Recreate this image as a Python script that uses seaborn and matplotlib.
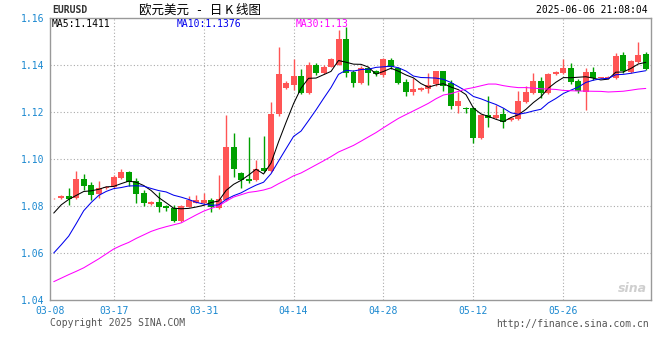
import numpy as np
import pandas as pd
import seaborn as sns
import matplotlib.pyplot as plt

# EUR/USD daily candles (80 bars)
opens = [1.0832, 1.0834, 1.0843, 1.0833, 1.0915, 1.0891, 1.0851, 1.0875, 1.0882, 1.0920,
         1.0946, 1.0906, 1.0857, 1.0807, 1.0818, 1.0800, 1.0790, 1.0736, 1.0797, 1.0814,
         1.0814, 1.0826, 1.0790, 1.0826, 1.1052, 1.0942, 1.0914, 1.0911, 1.0960, 1.0950,
         1.1190, 1.1303, 1.1315, 1.1353, 1.1280, 1.1400, 1.1365, 1.1393, 1.1400, 1.1511,
         1.1369, 1.1322, 1.1389, 1.1376, 1.1357, 1.1421, 1.1386, 1.1329, 1.1284, 1.1294,
         1.1298, 1.1318, 1.1374, 1.1322, 1.1227, 1.1218, 1.1218, 1.1088, 1.1187, 1.1176,
         1.1190, 1.1166, 1.1170, 1.1244, 1.1280, 1.1332, 1.1280, 1.1362, 1.1367, 1.1389,
         1.1332, 1.1286, 1.1372, 1.1345, 1.1345, 1.1343, 1.1443, 1.1372, 1.1414, 1.1447]
closes = [1.0834, 1.0843, 1.0830, 1.0915, 1.0887, 1.0848, 1.0875, 1.0882, 1.0925, 1.0946,
          1.0901, 1.0852, 1.0812, 1.0818, 1.0797, 1.0790, 1.0736, 1.0800, 1.0826, 1.0826,
          1.0826, 1.0797, 1.0830, 1.1052, 1.0956, 1.0911, 1.0908, 1.0956, 1.0950, 1.1190,
          1.1362, 1.1322, 1.1353, 1.1280, 1.1400, 1.1367, 1.1393, 1.1424, 1.1511, 1.1365,
          1.1325, 1.1389, 1.1365, 1.1360, 1.1424, 1.1393, 1.1325, 1.1286, 1.1298, 1.1303,
          1.1315, 1.1374, 1.1312, 1.1227, 1.1247, 1.1211, 1.1088, 1.1187, 1.1173, 1.1187,
          1.1159, 1.1176, 1.1247, 1.1286, 1.1332, 1.1280, 1.1362, 1.1372, 1.1386, 1.1329,
          1.1291, 1.1372, 1.1343, 1.1347, 1.1347, 1.1438, 1.1376, 1.1417, 1.1443, 1.1382]
highs = [1.0836, 1.0848, 1.0875, 1.0949, 1.0935, 1.0904, 1.0905, 1.0886, 1.0932, 1.0956,
         1.0950, 1.0918, 1.0868, 1.0822, 1.0861, 1.0804, 1.0804, 1.0804, 1.0843, 1.0847,
         1.0854, 1.0835, 1.0932, 1.1187, 1.1109, 1.0946, 1.1092, 1.0996, 1.1098, 1.1244,
         1.1478, 1.1330, 1.1424, 1.1382, 1.1414, 1.1410, 1.1398, 1.1430, 1.1549, 1.1560,
         1.1379, 1.1395, 1.1392, 1.1380, 1.1428, 1.1428, 1.1392, 1.1340, 1.1343, 1.1308,
         1.1367, 1.1376, 1.1376, 1.1336, 1.1286, 1.1223, 1.1223, 1.1190, 1.1268, 1.1230,
         1.1218, 1.1180, 1.1289, 1.1312, 1.1367, 1.1350, 1.1367, 1.1376, 1.1424, 1.1407,
         1.1340, 1.1386, 1.1390, 1.1349, 1.1354, 1.1450, 1.1457, 1.1421, 1.1499, 1.1457]
lows = [1.0830, 1.0830, 1.0804, 1.0830, 1.0868, 1.0826, 1.0835, 1.0872, 1.0878, 1.0915,
        1.0885, 1.0812, 1.0800, 1.0803, 1.0776, 1.0780, 1.0733, 1.0733, 1.0795, 1.0811,
        1.0804, 1.0776, 1.0787, 1.0820, 1.0925, 1.0878, 1.0897, 1.0908, 1.0945, 1.0945,
        1.1185, 1.1298, 1.1294, 1.1275, 1.1275, 1.1357, 1.1360, 1.1390, 1.1398, 1.1348,
        1.1308, 1.1318, 1.1315, 1.1355, 1.1350, 1.1385, 1.1320, 1.1270, 1.1272, 1.1290,
        1.1280, 1.1312, 1.1291, 1.1211, 1.1197, 1.1196, 1.1067, 1.1085, 1.1137, 1.1172,
        1.1131, 1.1160, 1.1166, 1.1240, 1.1276, 1.1258, 1.1276, 1.1358, 1.1362, 1.1319,
        1.1280, 1.1209, 1.1335, 1.1343, 1.1340, 1.1340, 1.1365, 1.1368, 1.1410, 1.1378]

# MA values at the left edge (need bars that are off screen)
ma5_head = [1.0770, 1.0805, 1.0828, 1.0845]
ma10_head = [1.0600, 1.0635, 1.0672, 1.0725, 1.0780, 1.0815, 1.0845, 1.0862, 1.0874]
ma30_head = [1.0478, 1.0493, 1.0508, 1.0522, 1.0537, 1.0556, 1.0575, 1.0596, 1.0617, 1.0632,
             1.0645, 1.0662, 1.0677, 1.0692, 1.0703, 1.0712, 1.0720, 1.0728, 1.0745, 1.0762,
             1.0778, 1.0790, 1.0800, 1.0820, 1.0838, 1.0848, 1.0858, 1.0862, 1.0868]

tick_labels = ['03-08', '03-17', '03-31', '04-14', '04-28', '05-12', '05-26']
tick_idx = [0, 8, 20, 32, 44, 56, 68]
y_ticks = [1.04, 1.06, 1.08, 1.10, 1.12, 1.14, 1.16]

df = pd.DataFrame({'open': opens, 'high': highs, 'low': lows, 'close': closes})
df['idx'] = np.arange(len(df))
for n, head in [(5, ma5_head), (10, ma10_head), (30, ma30_head)]:
    col = f'ma{n}'
    df[col] = df['close'].rolling(n).mean()
    df.loc[:len(head) - 1, col] = head

sns.set_style('white')
plt.rcParams['font.family'] = ['DejaVu Sans Mono']

RED = '#ff5555'
GREEN = '#00a000'
BLUE_TXT = '#1a88d0'
GRID = '#aaaaaa'

fig = plt.figure(figsize=(6.6, 3.6), dpi=100)
ax = fig.add_axes([50 / 660, 60 / 360, 601 / 660, 282 / 360])

# candles
up = df['close'] >= df['open']
colors = np.where(up, RED, GREEN)
body_low = df[['open', 'close']].min(axis=1)
body_h = (df['close'] - df['open']).abs().clip(lower=0.00006)
ax.vlines(df['idx'], df['low'], df['high'], colors=colors, linewidth=1, zorder=2)
ax.bar(df['idx'], body_h, bottom=body_low, width=0.8, color=colors, linewidth=0, zorder=2)

# moving averages
sns.lineplot(data=df, x='idx', y='ma5', color='black', linewidth=0.75, ax=ax, zorder=3)
sns.lineplot(data=df, x='idx', y='ma10', color='#0000ee', linewidth=0.75, ax=ax, zorder=3)
sns.lineplot(data=df, x='idx', y='ma30', color='#ff00ff', linewidth=0.75, ax=ax, zorder=3)

x_left, x_right = -0.5, 79.7
ax.set_xlim(x_left, x_right)
ax.set_ylim(1.04, 1.16)
ax.set_xlabel('')
ax.set_ylabel('')

ax.set_yticks(y_ticks)
ax.set_yticklabels([f'{v:.2f}' for v in y_ticks], color=BLUE_TXT, fontsize=7)
ax.set_xticks([x_left] + tick_idx[1:])
ax.set_xticklabels(tick_labels, color=BLUE_TXT, fontsize=7)
ax.tick_params(axis='y', length=0, pad=4)
ax.tick_params(axis='x', direction='in', length=2, color='#999999', pad=4)

for v in y_ticks[1:-1]:
    ax.axhline(v, color=GRID, linewidth=0.8, linestyle=(0, (1, 2)), zorder=1)
for i in tick_idx[1:]:
    ax.axvline(i, color=GRID, linewidth=0.8, linestyle=(0, (1, 2)), zorder=1)

for s in ax.spines.values():
    s.set_color('#999999')
    s.set_linewidth(1)

# MA readouts inside the frame
ma_y = 1.16 - 6 * 0.02 / 47
ax.text(-0.3, ma_y, f"MA5:{df['ma5'].iloc[-1]:.4f}", color='black',
        fontsize=7, va='center', ha='left')
ax.text(16.4, ma_y, f"MA10:{df['ma10'].iloc[-1]:.4f}", color='#0000ee',
        fontsize=7, va='center', ha='left')
ax.text(32.3, ma_y, f"MA30:{df['ma30'].iloc[-1]:.2f}", color='#ff00ff',
        fontsize=7, va='center', ha='left')

# header and footer
fig.text(52 / 660, 1 - 10 / 360, 'EURUSD', color='#333333', fontsize=7,
         fontweight='bold', va='center', ha='left')
fig.text(200 / 660, 1 - 10 / 360, '欧元美元   -   日 K 线图', color='black', fontsize=9,
         va='center', ha='center', family=['Noto Sans CJK SC', 'DejaVu Sans'])
fig.text(648 / 660, 1 - 10 / 360, '2025-06-06 21:08:04', color='black', fontsize=7,
         va='center', ha='right')
fig.text(50 / 660, 1 - 323 / 360, 'Copyright 2025 SINA.COM', color='#555555', fontsize=7,
         va='center', ha='left')
fig.text(649 / 660, 1 - 324 / 360, 'http://finance.sina.com.cn', color='#555555', fontsize=7,
         va='center', ha='right')
fig.text(632 / 660, 1 - 289 / 360, 'sina', color='#cfcfcf', fontsize=9,
         fontweight='bold', style='italic', va='center', ha='center',
         family=['DejaVu Sans'])

fig.savefig('out.png', dpi=100)
